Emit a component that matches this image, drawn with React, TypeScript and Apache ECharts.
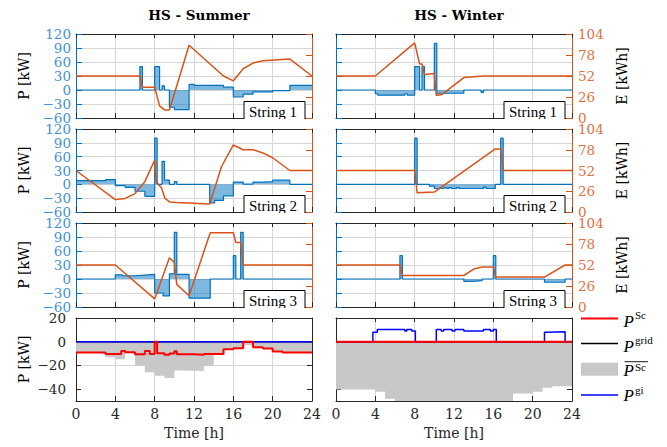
import React, { useEffect, useRef } from 'react';
import * as echarts from 'echarts';

// ---------------- data ----------------
const timeTicks = [0, 4, 8, 12, 16, 20, 24];
const powerTicks = [-60, -30, 0, 30, 60, 90, 120];
const energyTicks = [0, 26, 52, 78, 104];
const gridPowerTicks = [-40, -20, 0, 20];

const columnTitles = ['HS - Summer', 'HS - Winter'];
const stringLabels = ['String 1', 'String 2', 'String 3'];

// string power P [kW] as steps [start hour, value]; energy E [kWh] as points [hour, value]
const summerS1P = [[0, 0], [6.5, 50], [6.75, 0], [8, 50], [8.5, 0], [8.75, 9], [9, 0], [9.5, -37], [10, -42], [11.5, 12], [12, 10], [15, 6], [16, -15], [17, -9], [18, -4], [20, -1.5], [21.75, 10], [24, 10]];
const summerS1E = [[0, 52], [6.5, 52], [6.75, 38], [8, 38], [8.5, 15], [9, 10], [9.5, 10], [11.5, 90], [15, 52], [16, 46], [17, 61], [18, 68], [19, 71], [21.75, 73], [24, 52]];
const winterS1P = [[0, 0], [4, -8], [4.25, -11], [7, -8], [7.25, -11], [8, 50], [8.5, 0], [8.75, 50], [9, 0], [10, 100], [10.25, -7], [13, 0], [14.75, -5], [15, 0], [24, 0]];
const winterS1E = [[0, 52], [4, 52], [8, 93], [8.5, 67], [8.75, 67], [9, 54], [10, 55], [10.2, 28], [10.75, 29], [13, 50], [15, 52], [24, 52]];
const summerS2P = [[0, 8], [3, 10], [4, -3], [5, -6.5], [6, -15], [7, -26], [8, 100], [8.25, 0], [8.75, 50], [9, 9], [9.5, 0], [10, 6], [10.25, 0], [13.6, -40], [14.1, -35], [15, -25], [16, 5], [17, 0.5], [18, 5], [19, 6], [20, 9], [21.75, 0], [24, 0]];
const summerS2E = [[0, 52], [4, 15.5], [5, 17], [6, 23], [7, 38], [8, 65], [8.15, 38], [8.7, 30], [9.05, 17], [9.55, 12.5], [10.25, 12], [13.6, 10], [14.8, 57], [16, 84], [17, 78], [18, 78], [19, 74], [20, 68], [21.75, 52], [24, 52]];
const winterS2P = [[0, 0], [8, 100], [8.25, 0], [9.5, -4], [10, -9], [11, -7], [11.25, -9], [11.5, -7], [11.75, -9], [12.25, -7], [12.5, -9], [15, -6], [15.25, -9], [16.2, 0], [16.75, 100], [17, 0], [24, 0]];
const winterS2E = [[0, 52], [8, 52], [8.25, 24], [10, 25], [16.2, 79], [16.75, 79], [17, 52], [24, 52]];
const summerS3P = [[0, 0], [4, 9], [4.7, 7], [6, 8.5], [7, 10], [8, -30], [8.85, -36], [9.5, 11], [10, 100], [10.25, 10], [11.5, -41], [13.65, 0], [16, 50], [16.25, 0], [16.75, 100], [17, 0], [24, 0]];
const summerS3E = [[0, 52], [4, 52], [8, 10], [9.5, 61], [10, 55], [10.25, 28], [11.5, 14], [13.65, 92], [16, 92], [16.25, 80], [16.75, 80], [17, 52], [24, 52]];
const winterS3P = [[0, 0], [6.5, 50], [6.75, 0], [13, -5], [14, -3.5], [14.85, 0], [16, 50], [16.25, 0], [21.2, -7], [23.3, 0], [24, 0]];
const winterS3E = [[0, 52], [6.5, 52], [6.75, 39], [13, 39], [14, 47], [14.85, 49.5], [16, 49.5], [16.25, 37], [21.2, 37], [23.3, 52], [24, 52]];

// grid level [kW] as steps
const summerPSc = [[0, -9], [3, -10.3], [4.6, -7.8], [5, -8.9], [6, -10.5], [7, -7.8], [7.5, -10.3], [8, 0], [8.25, -9.7], [9, -11], [9.5, -10], [10, -8], [10.25, -10.5], [12, -11], [13, -10.3], [15, -6.4], [16, -5.6], [17, 0], [18, -4.7], [19, -5.8], [20, -8.3], [21, -9.2], [24, -9.2]];
const summerPScBar = [[0, -9], [3, -13], [4, -14.7], [5, -9.7], [6, -20], [7, -25.8], [8, -28.6], [9, -30.5], [10, -24.2], [11, -24.7], [13, -20.5], [14, -10.3], [15, -6.4], [16, -5.6], [17, -3], [18, -4.7], [19, -5.8], [20, -8.3], [21, -9.2], [24, -9.2]];
const summerPgrid = [[0, 0], [24, 0]];
const summerPgi = [[0, 0], [24, 0]];
const winterPSc = [[0, 0], [24, 0]];
const winterPScBar = [[0, -40.3], [4, -42.2], [5, -48], [6, -55], [18, -43.6], [20, -42.2], [21, -38.9], [22, -37.5], [24, -37.5]];
const winterPgrid = [[0, 0], [24, 0]];
const winterPgi = [[0, 0], [3.75, 8], [4.2, 10.3], [7, 9], [7.2, 10.3], [7.7, 9], [8.07, 0], [10.2, 10.3], [10.7, 9], [10.95, 10.3], [11.8, 9], [12.1, 10.3], [13, 9], [15, 10.3], [15.7, 9], [16, 10.3], [16.3, 0], [21.2, 8], [21.45, 8.5], [23.3, 0], [24, 0]];

const stringPanels = [
  [[summerS1P, summerS1E], [winterS1P, winterS1E]],
  [[summerS2P, summerS2E], [winterS2P, winterS2E]],
  [[summerS3P, summerS3E], [winterS3P, winterS3E]],
];
const gridPanels = [
  { sc: summerPSc, scBar: summerPScBar, grid: summerPgrid, gi: summerPgi },
  { sc: winterPSc, scBar: winterPScBar, grid: winterPgrid, gi: winterPgi },
];

// ---------------- styling ----------------
const FONT = 'DejaVu Serif';
const LFONT = 'Liberation Serif';
const BLUE = '#0072BD';
const ORANGE = '#D95319';
const BLUE_TXT = '#3F93D2';
const ORANGE_TXT = '#E2703F';
const DARK = '#262626';
const GRIDC = '#D6D6D6';
const TICK_FS = 13.5;

const colLeft = [76, 336];
const colWidth = 236;
const rowTop = [34, 129, 223, 318];
const rowHeight = [84, 83, 84, 83];

const minus = (v: number) => String(v).replace('-', '\u2212');

function buildOption() {
  const grid: any[] = [];
  const xAxis: any[] = [];
  const yAxis: any[] = [];
  const series: any[] = [];
  const graphic: any[] = [];

  for (let r = 0; r < 4; r++) {
    for (let c = 0; c < 2; c++) {
      const g = r * 2 + c;
      grid.push({
        left: colLeft[c], top: rowTop[r], width: colWidth, height: rowHeight[r],
        containLabel: false, outerBoundsMode: 'none',
      });
      const last = r === 3;
      xAxis.push({
        type: 'value', gridIndex: g, position: 'bottom', min: timeTicks[0], max: timeTicks[timeTicks.length - 1], interval: 4,
        axisLine: { show: true, onZero: false, lineStyle: { color: DARK, width: 1 } },
        axisTick: { show: true, inside: true, length: 5, lineStyle: { color: DARK } },
        axisLabel: { show: last, color: DARK, fontFamily: FONT, fontSize: 14, margin: 6 },
        splitLine: { show: true, showMinLine: false, showMaxLine: false, lineStyle: { color: GRIDC, width: 1 } },
        name: last ? 'Time [h]' : '', nameLocation: 'middle', nameGap: 25,
        nameTextStyle: { fontFamily: FONT, fontSize: 14, color: DARK },
      });
      xAxis.push({
        type: 'value', gridIndex: g, position: 'top', min: 0, max: 24, interval: 4,
        axisLine: { show: true, onZero: false, lineStyle: { color: DARK, width: 1 } },
        axisTick: { show: true, inside: true, length: 4, lineStyle: { color: DARK } },
        axisLabel: { show: false }, splitLine: { show: false },
      });
      if (!last) {
        yAxis.push({
          type: 'value', gridIndex: g, position: 'left', min: powerTicks[0], max: powerTicks[powerTicks.length - 1], interval: 30,
          axisLine: { show: true, onZero: false, lineStyle: { color: BLUE, width: 1 } },
          axisTick: { show: true, inside: true, length: 6, lineStyle: { color: BLUE } },
          axisLabel: { show: c === 0, color: BLUE_TXT, fontFamily: FONT, fontSize: TICK_FS, margin: 5, formatter: minus },
          splitLine: { show: true, showMinLine: false, showMaxLine: false, lineStyle: { color: GRIDC, width: 1 } },
          name: c === 0 ? 'P [kW]' : '', nameLocation: 'middle', nameGap: 45, nameRotate: 90,
          nameTextStyle: { fontFamily: FONT, fontSize: 14, color: '#000' },
        });
        yAxis.push({
          type: 'value', gridIndex: g, position: 'right', min: energyTicks[0], max: energyTicks[energyTicks.length - 1], interval: 26,
          axisLine: { show: true, onZero: false, lineStyle: { color: ORANGE, width: 1 } },
          axisTick: { show: true, inside: true, length: 6, lineStyle: { color: ORANGE } },
          axisLabel: { show: c === 1, color: ORANGE_TXT, fontFamily: FONT, fontSize: TICK_FS, margin: 6 },
          splitLine: { show: false },
          name: c === 1 ? 'E [kWh]' : '', nameLocation: 'middle', nameGap: 43, nameRotate: 90,
          nameTextStyle: { fontFamily: FONT, fontSize: 14, color: '#000' },
        });
        const [pData, eData] = stringPanels[r][c];
        series.push({
          type: 'line', xAxisIndex: 2 * g, yAxisIndex: 2 * g, data: pData, step: 'end', symbol: 'none',
          lineStyle: { color: BLUE, width: 1.2 }, itemStyle: { color: BLUE },
          areaStyle: { color: BLUE, opacity: 0.5 }, z: 2, silent: true,
        });
        series.push({
          type: 'line', xAxisIndex: 2 * g, yAxisIndex: 2 * g + 1, data: eData, symbol: 'none',
          lineStyle: { color: ORANGE, width: 1.5 }, itemStyle: { color: ORANGE }, z: 3, silent: true,
        });
        // "String n" box, clipped at plot bottom
        const bottom = rowTop[r] + rowHeight[r];
        const gx = colLeft[c] + colWidth - 68;
        graphic.push({ type: 'rect', z: 100, shape: { x: gx, y: bottom - 16.5, width: 61, height: 22 }, style: { fill: '#fff', stroke: '#000', lineWidth: 1 } });
        graphic.push({ type: 'text', z: 101, x: gx + 5, y: bottom - 6.5, style: { text: stringLabels[r], fontFamily: LFONT, fontSize: 15, fill: '#000', verticalAlign: 'middle' } });
        graphic.push({ type: 'rect', z: 102, shape: { x: gx - 2, y: bottom + 1, width: 65, height: 8 }, style: { fill: '#fff' } });
      } else {
        yAxis.push({
          type: 'value', gridIndex: g, position: 'left', min: -50, max: 20, interval: 10,
          axisLine: { show: true, onZero: false, lineStyle: { color: DARK, width: 1 } },
          axisTick: { show: true, inside: true, length: 5, customValues: gridPowerTicks, lineStyle: { color: DARK } },
          axisLabel: { show: c === 0, customValues: gridPowerTicks, color: DARK, fontFamily: FONT, fontSize: TICK_FS, margin: 10, formatter: minus },
          splitLine: { show: true, showMinLine: false, showMaxLine: false, lineStyle: { color: GRIDC, width: 1 } },
          name: c === 0 ? 'P [kW]' : '', nameLocation: 'middle', nameGap: 45, nameRotate: 90,
          nameTextStyle: { fontFamily: FONT, fontSize: 14, color: '#000' },
        });
        yAxis.push({
          type: 'value', gridIndex: g, position: 'right', min: -50, max: 20, interval: 10,
          axisLine: { show: true, onZero: false, lineStyle: { color: DARK, width: 1 } },
          axisTick: { show: true, inside: true, length: 5, customValues: gridPowerTicks, lineStyle: { color: DARK } },
          axisLabel: { show: false }, splitLine: { show: false },
        });
        const d = gridPanels[c];
        const common = { type: 'line', xAxisIndex: 2 * g, yAxisIndex: 2 * g, step: 'end', symbol: 'none', silent: true };
        series.push({ ...common, name: 'PScBar', data: d.scBar, lineStyle: { width: 0, opacity: 0 }, itemStyle: { color: '#C8C8C8' }, areaStyle: { color: '#C8C8C8', opacity: 1 }, z: 1 });
        series.push({ ...common, name: 'Pgrid', data: d.grid, lineStyle: { color: '#000000', width: 1.5 }, itemStyle: { color: '#000' }, z: 2 });
        series.push({ ...common, name: 'Pgi', data: d.gi, lineStyle: { color: '#0000FF', width: 1.5 }, itemStyle: { color: '#0000FF' }, z: 3 });
        series.push({ ...common, name: 'PSc', data: d.sc, lineStyle: { color: '#FF0000', width: 2 }, itemStyle: { color: '#FF0000' }, z: 4 });
      }
    }
  }

  // legend (manual)
  const lx0 = 581, lx1 = 618, tx = 623.5, sx = 635;
  const pStyle = { fontFamily: LFONT, fontStyle: 'italic', fontSize: 17, fill: '#000', verticalAlign: 'middle' };
  const sStyle = { fontFamily: LFONT, fontSize: 11, fill: '#000', verticalAlign: 'middle' };
  const legendItems = [
    { kind: 'line', color: '#FF0000', width: 2, y: 318.5, sup: 'Sc', py: 321, sy: 315 },
    { kind: 'line', color: '#000000', width: 1.5, y: 343.5, sup: 'grid', py: 346, sy: 340 },
    { kind: 'rect', color: '#C8C8C8', width: 0, y: 369, sup: 'Sc', py: 370.5, sy: 366.5, over: 361.7 },
    { kind: 'line', color: '#0000FF', width: 1.5, y: 395, sup: 'gi', py: 395.5, sy: 390 },
  ];
  legendItems.forEach((it) => {
    if (it.kind === 'line') {
      graphic.push({ type: 'line', z: 100, shape: { x1: lx0, y1: it.y, x2: lx1, y2: it.y }, style: { stroke: it.color, lineWidth: it.width } });
    } else {
      graphic.push({ type: 'rect', z: 100, shape: { x: lx0, y: 362.7, width: lx1 - lx0, height: 13 }, style: { fill: it.color } });
    }
    graphic.push({ type: 'text', z: 100, x: tx, y: it.py, style: { ...pStyle, text: 'P' } });
    graphic.push({ type: 'text', z: 100, x: sx, y: it.sy, style: { ...sStyle, text: it.sup } });
    if (it.over) {
      graphic.push({ type: 'line', z: 100, shape: { x1: tx + 1, y1: it.over, x2: 648, y2: it.over }, style: { stroke: '#000', lineWidth: 0.9 } });
    }
  });

  const title = columnTitles.map((t, c) => ({
    text: t, left: colLeft[c] + colWidth / 2, top: 3, textAlign: 'center',
    textStyle: { fontFamily: FONT, fontSize: 13.5, fontWeight: 'bold', color: '#000' },
  }));

  return {
    animation: false,
    backgroundColor: '#ffffff',
    title, grid, xAxis, yAxis, series, graphic,
  };
}

export default function App() {
  const ref = useRef<HTMLDivElement>(null);
  useEffect(() => {
    if (!ref.current) return;
    const chart = echarts.init(ref.current, undefined, { renderer: 'svg' });
    chart.setOption(buildOption() as any);
    return () => chart.dispose();
  }, []);
  return <div ref={ref} style={{ position: 'absolute', left: 0, top: 0, width: 667, height: 447 }} />;
}
